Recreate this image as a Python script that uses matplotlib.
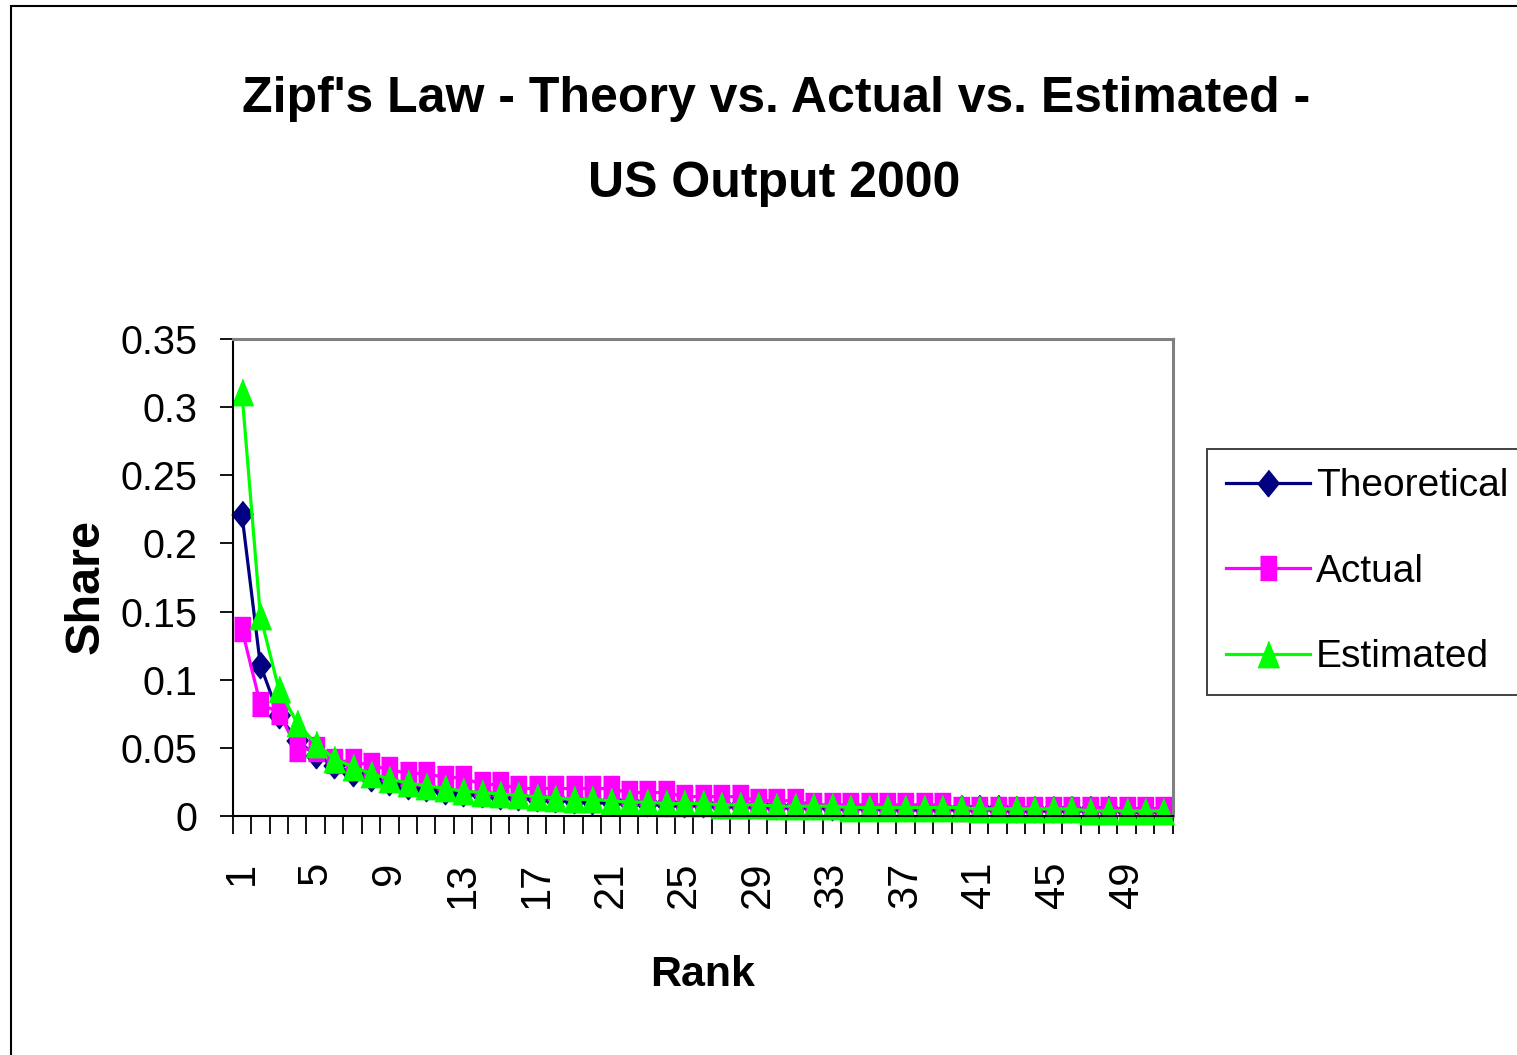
import matplotlib
matplotlib.use("Agg")
import matplotlib.pyplot as plt
from matplotlib.patches import Rectangle

""" Data read off the chart """
ranks = list(range(1, 52))

theoretical = [0.2213, 0.1107, 0.0738, 0.0553, 0.0443, 0.0369, 0.0316, 0.0277, 0.0246, 0.0221,
               0.0201, 0.0184, 0.0170, 0.0158, 0.0148, 0.0138, 0.0130, 0.0123, 0.0116, 0.0111,
               0.0105, 0.0101, 0.0096, 0.0092, 0.0089, 0.0085, 0.0082, 0.0079, 0.0076, 0.0074,
               0.0071, 0.0069, 0.0067, 0.0065, 0.0063, 0.0061, 0.0060, 0.0058, 0.0057, 0.0055,
               0.0054, 0.0053, 0.0051, 0.0050, 0.0049, 0.0048, 0.0047, 0.0046, 0.0045, 0.0044,
               0.0043]

actual = [0.137, 0.082, 0.076, 0.049, 0.049, 0.040, 0.040, 0.037, 0.034, 0.031,
          0.031, 0.028, 0.028, 0.023, 0.023, 0.020, 0.020, 0.020, 0.020, 0.020,
          0.020, 0.017, 0.017, 0.017, 0.014, 0.014, 0.014, 0.014, 0.011, 0.011,
          0.011, 0.008, 0.008, 0.008, 0.008, 0.008, 0.008, 0.008, 0.008, 0.005,
          0.005, 0.005, 0.005, 0.005, 0.005, 0.005, 0.005, 0.005, 0.005, 0.005,
          0.005]

estimated = [0.311, 0.147, 0.093, 0.068, 0.053, 0.042, 0.036, 0.031, 0.027, 0.024,
             0.022, 0.020, 0.018, 0.017, 0.016, 0.015, 0.014, 0.013, 0.012, 0.012,
             0.011, 0.010, 0.010, 0.009, 0.009, 0.009, 0.008, 0.008, 0.008, 0.007,
             0.007, 0.007, 0.007, 0.006, 0.006, 0.006, 0.006, 0.006, 0.006, 0.006,
             0.005, 0.005, 0.005, 0.005, 0.005, 0.005, 0.0035, 0.0035, 0.0035, 0.0035,
             0.0035]

y_ticks = [0, 0.05, 0.1, 0.15, 0.2, 0.25, 0.3, 0.35]
x_labels = [1, 5, 9, 13, 17, 21, 25, 29, 33, 37, 41, 45, 49]

FONT = ['Liberation Sans', 'DejaVu Sans']
W, H = 1517, 1055

# markers in the original are a bit taller than wide
DIAMOND = [(0, 1), (0.81, 0), (0, -1), (-0.81, 0)]
SQUARE = [(-0.67, -1), (0.67, -1), (0.67, 1), (-0.67, 1)]
TRIANGLE = [(0, 1), (0.81, -1), (-0.81, -1)]

fig = plt.figure(figsize=(W / 100, H / 100), dpi=100)
ax = fig.add_axes([232.7 / W, 1 - 815.7 / H, 940 / W, 476.4 / H])

# outer chart border (cut off on the right and bottom)
fig.patches.append(Rectangle((11 / W, -0.1), 1.2, 1.1 - 6 / H, transform=fig.transFigure,
                             fill=False, edgecolor='black', linewidth=1.5))

ax.plot(ranks, theoretical, color='#000080', lw=2.3, marker=DIAMOND, ms=19, label='Theoretical', clip_on=False)
ax.plot(ranks, actual, color='#FF00FF', lw=2.3, marker=SQUARE, ms=17.5, label='Actual', clip_on=False)
ax.plot(ranks, estimated, color='#00FF00', lw=2.3, marker=TRIANGLE, ms=19, label='Estimated', clip_on=False)

ax.set_xlim(0.5, 51.5)
ax.set_ylim(0, 0.35)

# ticks between categories, labels on every 4th category
ax.set_xticks([r + 0.5 for r in range(0, 52)])
ax.set_xticklabels([])
ax.set_xticks(x_labels, [str(v) for v in x_labels], minor=True)
ax.tick_params(axis='x', which='major', direction='out', length=13, width=1.3, color='black')
ax.tick_params(axis='x', which='minor', length=0, pad=33, labelrotation=90)
for lab in ax.get_xticklabels(minor=True):
    lab.set_family(FONT)
    lab.set_fontsize(30)

ax.set_yticks(y_ticks, ['%g' % v for v in y_ticks])
ax.tick_params(axis='y', direction='out', length=9.5, width=1.3, pad=16)
for lab in ax.get_yticklabels():
    lab.set_family(FONT)
    lab.set_fontsize(28.5)

for side in ('left', 'bottom'):
    ax.spines[side].set_color('black')
    ax.spines[side].set_linewidth(1.5)
for side in ('top', 'right'):
    ax.spines[side].set_color('#808080')
    ax.spines[side].set_linewidth(2.2)

fig.text(776 / W, 1 - 112 / H, "Zipf's Law - Theory vs. Actual vs. Estimated -", ha='center', va='baseline',
         family=FONT, fontweight='bold', fontsize=36)
fig.text(774 / W, 1 - 197 / H, "US Output 2000", ha='center', va='baseline',
         family=FONT, fontweight='bold', fontsize=36)
fig.text(702.5 / W, 1 - 986 / H, "Rank", ha='center', va='baseline',
         family=FONT, fontweight='bold', fontsize=31)
fig.text(86 / W, 1 - 587 / H, "Share", ha='center', va='center', rotation=90,
         family=FONT, fontweight='bold', fontsize=35)

leg = fig.legend(loc='upper left', bbox_to_anchor=(1207 / W, 1 - 449 / H), bbox_transform=fig.transFigure,
                 frameon=True, fancybox=False, borderpad=0.5, handlelength=2.15, handletextpad=0.15,
                 labelspacing=1.27, borderaxespad=0, prop={'family': FONT, 'size': 28})
leg.get_frame().set_edgecolor('black')
leg.get_frame().set_linewidth(1.3)

fig.savefig('out.png', dpi=100)
